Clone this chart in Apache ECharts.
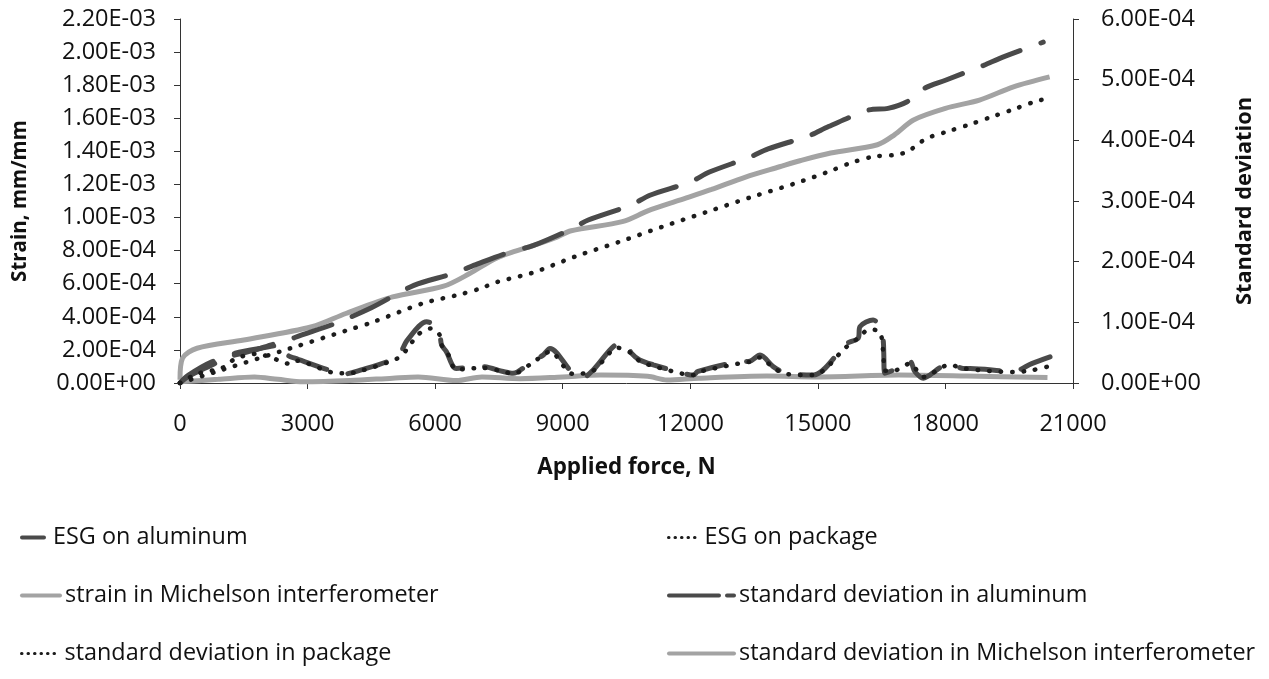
<!DOCTYPE html>
<html>
<head>
<meta charset="utf-8">
<script src="https://cdn.jsdelivr.net/npm/echarts@6/dist/echarts.min.js"></script>
<style>
html,body{margin:0;padding:0;background:#fff;}
#chart{width:1269px;height:679px;}
</style>
</head>
<body>
<div id="chart"></div>
<script>
// ---- Data ----
const xTicks = [0, 3000, 6000, 9000, 12000, 15000, 18000, 21000];

// ESG on aluminum (left axis, strain mm/mm)
const alForce  = [0, 200, 800, 1300, 2300, 2700, 3600, 4500, 5500, 6400, 7000, 7800, 8300, 9200, 9600, 10600, 11050, 12000, 12450, 13400, 13830, 14800, 15250, 16200, 16650, 17100, 17500, 18000, 18900, 19350, 20300];
const alStrain = [0, 0.4e-4, 1.15e-4, 1.8e-4, 2.3e-4, 2.75e-4, 3.55e-4, 4.55e-4, 5.9e-4, 6.6e-4, 7.2e-4, 7.95e-4, 8.3e-4, 9.3e-4, 9.85e-4, 1.075e-3, 1.135e-3, 1.215e-3, 1.275e-3, 1.365e-3, 1.415e-3, 1.495e-3, 1.55e-3, 1.65e-3, 1.66e-3, 1.70e-3, 1.78e-3, 1.83e-3, 1.92e-3, 1.97e-3, 2.06e-3];

// ESG on package (left axis)
const pkForce  = [0, 1000, 2600, 3900, 4500, 5730, 6500, 7050, 7450, 8300, 9300, 10350, 11350, 12400, 13450, 14450, 15250, 15750, 16300, 16800, 17100, 17550, 18050, 18600, 19100, 19600, 20100, 20400];
const pkStrain = [0, 0.8e-4, 2.1e-4, 3.16e-4, 3.65e-4, 4.83e-4, 5.3e-4, 5.7e-4, 6.1e-4, 6.67e-4, 7.65e-4, 8.55e-4, 9.45e-4, 1.035e-3, 1.125e-3, 1.205e-3, 1.277e-3, 1.328e-3, 1.368e-3, 1.378e-3, 1.398e-3, 1.477e-3, 1.52e-3, 1.565e-3, 1.61e-3, 1.654e-3, 1.70e-3, 1.72e-3];

// strain in Michelson interferometer (left axis)
const miForce  = [0, 60, 400, 1500, 3100, 3900, 5000, 6200, 6800, 7400, 7800, 8300, 8800, 9200, 10400, 11000, 11750, 12500, 13300, 14100, 14600, 15300, 16400, 16800, 17250, 18000, 18800, 19600, 20450];
const miStrain = [0.2e-4, 1.5e-4, 2.1e-4, 2.6e-4, 3.4e-4, 4.2e-4, 5.2e-4, 5.85e-4, 6.6e-4, 7.5e-4, 7.9e-4, 8.3e-4, 8.75e-4, 9.2e-4, 9.75e-4, 1.04e-3, 1.105e-3, 1.17e-3, 1.245e-3, 1.307e-3, 1.345e-3, 1.39e-3, 1.44e-3, 1.50e-3, 1.59e-3, 1.66e-3, 1.71e-3, 1.79e-3, 1.85e-3];

// standard deviation in aluminum (right axis)
const sdAlForce = [0, 200, 750, 1280, 1800, 2300, 2550, 2700, 3600, 3870, 4150, 5100, 5350, 5800, 6030, 6110, 6150, 6260, 6500, 7120, 7600, 7830, 8260, 8540, 8700, 9240, 9500, 9710, 10300, 10460, 10620, 10810, 11130, 11830, 12070, 12180, 13130, 13400, 13640, 13950, 14260, 14890, 15680, 15950, 15990, 16300, 16500, 16540, 16550, 16570, 16770, 17170, 17280, 17480, 17560, 18100, 18420, 18580, 19600, 20030, 20460];
const sdAl      = [0, 1.3e-5, 3.5e-5, 4.6e-5, 5.5e-5, 6.5e-5, 4.5e-5, 4.1e-5, 1.9e-5, 1.5e-5, 1.9e-5, 4.3e-5, 7.1e-5, 1.01e-4, 9.3e-5, 8.2e-5, 6.3e-5, 5.2e-5, 2.4e-5, 2.7e-5, 1.9e-5, 1.6e-5, 3.5e-5, 4.6e-5, 5.7e-5, 1.6e-5, 1.0e-5, 2.1e-5, 6.5e-5, 6.6e-5, 4.9e-5, 3.8e-5, 3.0e-5, 1.6e-5, 1.3e-5, 1.9e-5, 3.5e-5, 3.6e-5, 4.6e-5, 2.7e-5, 1.6e-5, 1.3e-5, 6.5e-5, 7.4e-5, 9.3e-5, 1.04e-4, 8.7e-5, 6.8e-5, 4.9e-5, 1.6e-5, 2.1e-5, 3.5e-5, 1.9e-5, 0.8e-5, 1.0e-5, 3.2e-5, 2.4e-5, 2.4e-5, 1.9e-5, 3.2e-5, 4.3e-5];

// standard deviation in package (right axis)
const sdPkForce = [0, 400, 1000, 1300, 1800, 2300, 2550, 2700, 3600, 3870, 4150, 5100, 5320, 5600, 5900, 6100, 6150, 6300, 6500, 7100, 7600, 7830, 8260, 8540, 8700, 9240, 9710, 10300, 10620, 10810, 11130, 11830, 12070, 12180, 13130, 13400, 13640, 13950, 14260, 14890, 15680, 15950, 16200, 16450, 16540, 16570, 16770, 17170, 17480, 18100, 18420, 19600, 20030, 20460];
const sdPk      = [0, 1.5e-5, 2.5e-5, 4.0e-5, 4.8e-5, 3.8e-5, 3.2e-5, 3.7e-5, 1.7e-5, 1.6e-5, 1.8e-5, 4.0e-5, 5.4e-5, 8.0e-5, 9.0e-5, 8.0e-5, 6.3e-5, 4.8e-5, 2.2e-5, 2.5e-5, 1.9e-5, 1.5e-5, 3.2e-5, 4.6e-5, 5.2e-5, 1.5e-5, 2.0e-5, 5.8e-5, 4.9e-5, 3.6e-5, 2.8e-5, 1.5e-5, 1.3e-5, 1.8e-5, 3.2e-5, 3.5e-5, 4.2e-5, 2.5e-5, 1.5e-5, 1.3e-5, 6.0e-5, 7.4e-5, 8.8e-5, 8.5e-5, 4.9e-5, 2.0e-5, 2.0e-5, 3.2e-5, 1.0e-5, 3.0e-5, 2.4e-5, 1.8e-5, 2.1e-5, 2.8e-5];

// standard deviation in Michelson interferometer (right axis)
const sdMiForce = [0, 900, 1750, 2300, 2900, 4000, 5000, 5600, 6500, 7100, 8000, 9000, 9900, 11000, 11450, 12200, 13800, 15000, 16900, 18500, 20400];
const sdMi      = [2e-6, 6e-6, 1.0e-5, 6e-6, 2e-6, 4e-6, 8e-6, 1.0e-5, 4e-6, 1.0e-5, 7e-6, 1.0e-5, 1.3e-5, 1.1e-5, 5e-6, 8e-6, 1.15e-5, 1.0e-5, 1.3e-5, 1.15e-5, 9e-6];

const seriesNames = ['ESG on aluminum', 'ESG on package', 'strain in Michelson interferometer',
  'standard deviation in aluminum', 'standard deviation in package', 'standard deviation in Michelson interferometer'];

// ---- Helpers ----
function zip(xs, ys) { return xs.map((x, i) => [x, ys[i]]); }
function sci(v) {
  const s = Number(v).toExponential(2);
  const parts = s.split('e');
  const sign = parts[1][0];
  const d = parts[1].slice(1).padStart(2, '0');
  return parts[0] + 'E' + sign + d;
}

const FONT = 'Open Sans';
const DARK = '#4a4a4a';
const LIGHT = '#a3a3a3';
const DOT = '#1c1c1c';
const dashStyle = { color: DARK, width: 5, type: [40, 22], cap: 'round' };
const dotStyle = { color: DOT, width: 4.5, type: [0.5, 11], cap: 'round' };
const solidLight = { color: LIGHT, width: 5, type: 'solid' };

function lineSeries(name, data, style, yIdx, z) {
  return {
    name: name, type: 'line', data: data, yAxisIndex: yIdx,
    showSymbol: false, symbol: 'none', smooth: 0.3, z: z,
    lineStyle: style, itemStyle: { color: style.color },
    emphasis: { disabled: true }, animation: false
  };
}

const chart = echarts.init(document.getElementById('chart'), null, { renderer: 'canvas' });

const axisLineStyle = { lineStyle: { color: '#333', width: 1 } };
const labelStyle = { fontFamily: FONT, fontSize: 23.5, color: '#111' };
function titleStyle(size) { return { fontFamily: FONT, fontSize: size, fontWeight: 'bold', color: '#111' }; }

function legendItem(name, left, textStart, top, lineType, color, width) {
  return {
    data: [name], left: left, top: top, orient: 'horizontal', padding: 0,
    itemWidth: textStart - left - 5, itemHeight: 14, itemGap: 0, selectedMode: false,
    textStyle: { fontFamily: FONT, fontSize: 23.4, color: '#111' },
    lineStyle: { type: lineType, color: color, width: width, cap: 'round' },
    itemStyle: { opacity: 0 }
  };
}

const option = {
  backgroundColor: '#fff',
  animation: false,
  grid: { left: 180, right: 196, top: 19, bottom: 296, containLabel: false },
  xAxis: {
    type: 'value', min: 0, max: 21000, interval: 3000,
    name: 'Applied force, N', nameLocation: 'middle', nameGap: 74,
    nameTextStyle: titleStyle(22.4),
    axisLine: axisLineStyle,
    axisTick: { show: true, inside: false, length: 6, lineStyle: { color: '#333' } },
    axisLabel: Object.assign({ margin: 29, formatter: v => String(v) }, labelStyle),
    splitLine: { show: false }
  },
  yAxis: [
    {
      type: 'value', min: 0, max: 0.0022, interval: 0.0002, position: 'left',
      name: 'Strain, mm/mm', nameLocation: 'middle', nameRotate: 90, nameGap: 149,
      nameTextStyle: titleStyle(20.5),
      axisLine: { show: true, lineStyle: { color: '#333', width: 1 } },
      axisTick: { show: true, inside: false, length: 6, lineStyle: { color: '#333' } },
      axisLabel: Object.assign({ margin: 24, formatter: sci }, labelStyle),
      splitLine: { show: false }
    },
    {
      type: 'value', min: 0, max: 0.0006, interval: 0.0001, position: 'right',
      name: 'Standard deviation', nameLocation: 'middle', nameRotate: 90, nameGap: 161,
      nameTextStyle: titleStyle(21.8),
      axisLine: { show: true, lineStyle: { color: '#333', width: 1 } },
      axisTick: { show: true, inside: false, length: 6, lineStyle: { color: '#333' } },
      axisLabel: Object.assign({ margin: 28, formatter: sci }, labelStyle),
      splitLine: { show: false }
    }
  ],
  legend: [
    legendItem(seriesNames[0], 20, 51, 526, [22, 8], DARK, 4),
    legendItem(seriesNames[1], 667, 703, 526, [0.5, 6], DOT, 3),
    legendItem(seriesNames[2], 20, 63, 584, 'solid', LIGHT, 4),
    legendItem(seriesNames[3], 667, 737, 584, [50, 8], DARK, 4),
    legendItem(seriesNames[4], 20, 63, 642, [0.5, 6], DOT, 3),
    legendItem(seriesNames[5], 667, 737, 642, 'solid', LIGHT, 4)
  ],
  series: [
    lineSeries(seriesNames[0], zip(alForce, alStrain), dashStyle, 0, 5),
    lineSeries(seriesNames[1], zip(pkForce, pkStrain), dotStyle, 0, 6),
    lineSeries(seriesNames[2], zip(miForce, miStrain), solidLight, 0, 4),
    lineSeries(seriesNames[3], zip(sdAlForce, sdAl), dashStyle, 1, 5),
    lineSeries(seriesNames[4], zip(sdPkForce, sdPk), dotStyle, 1, 6),
    lineSeries(seriesNames[5], zip(sdMiForce, sdMi), solidLight, 1, 3)
  ]
};

chart.setOption(option);
</script>
</body>
</html>
